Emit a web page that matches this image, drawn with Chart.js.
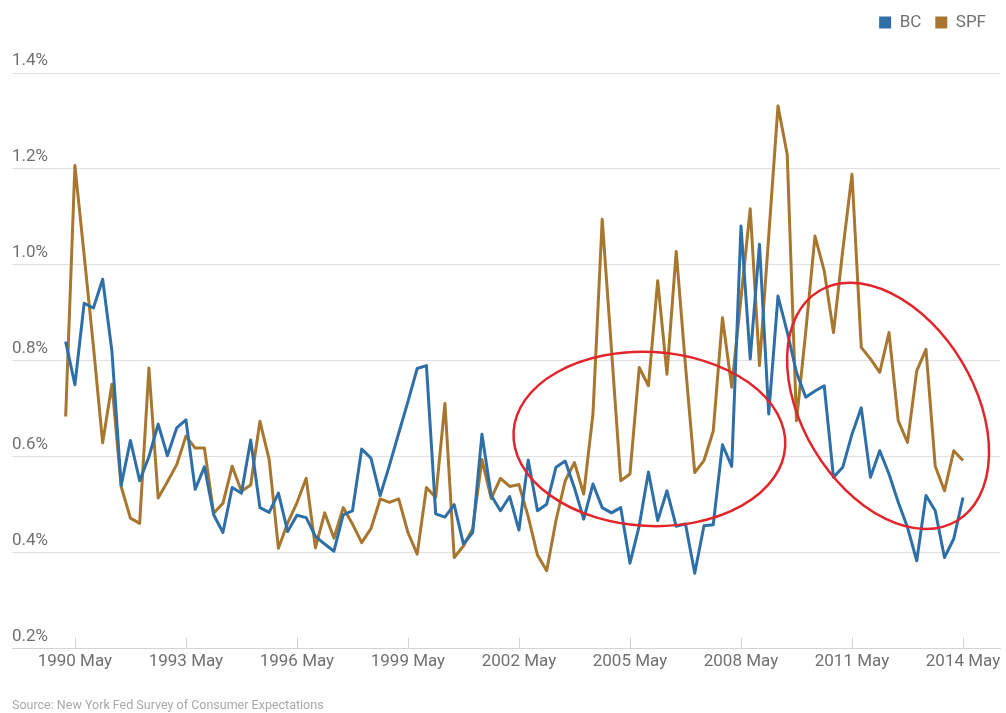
<!DOCTYPE html>
<html>
<head>
<meta charset="utf-8">
<script src="https://cdn.jsdelivr.net/npm/chart.js@4.4.1/dist/chart.umd.min.js"></script>
<style>
    html, body { margin: 0; padding: 0; background: #fff; }
</style>
</head>
<body>
<canvas id="lineChart" width="1006" height="713"></canvas>
<script>
/* BC vs SPF - quarterly, 1990 Feb ~ 2014 May */

// --- data ---
const bcValues = [
    0.84, 0.75, 0.92, 0.91, 0.97, 0.82, 0.54, 0.634, 0.55, 0.60,
    0.668, 0.602, 0.66, 0.677, 0.532, 0.579, 0.479, 0.442, 0.536, 0.524,
    0.635, 0.494, 0.484, 0.524, 0.444, 0.478, 0.473, 0.434, 0.418, 0.403,
    0.479, 0.487, 0.616, 0.597, 0.519, 0.582, 0.649, 0.715, 0.784, 0.79,
    0.481, 0.474, 0.50, 0.418, 0.442, 0.647, 0.519, 0.4875, 0.517, 0.447,
    0.593, 0.4875, 0.501, 0.578, 0.591, 0.535, 0.47, 0.543, 0.494, 0.483,
    0.494, 0.378, 0.456, 0.568, 0.467, 0.529, 0.455, 0.46, 0.357, 0.456,
    0.458, 0.625, 0.58, 1.081, 0.804, 1.043, 0.689, 0.935, 0.86, 0.776,
    0.724, 0.737, 0.748, 0.557, 0.578, 0.647, 0.702, 0.557, 0.6125, 0.564,
    0.505, 0.453, 0.383, 0.519, 0.4875, 0.39, 0.429, 0.515
];

const spfValues = [
    0.684, 1.207, 1.02, 0.83, 0.629, 0.751, 0.538, 0.472, 0.461, 0.785,
    0.514, 0.548, 0.583, 0.643, 0.618, 0.618, 0.482, 0.503, 0.58, 0.528,
    0.541, 0.674, 0.594, 0.409, 0.462, 0.504, 0.555, 0.41, 0.483, 0.43,
    0.494, 0.46, 0.421, 0.45, 0.512, 0.505, 0.512, 0.442, 0.397, 0.536,
    0.515, 0.711, 0.39, 0.414, 0.45, 0.594, 0.513, 0.555, 0.538, 0.542,
    0.475, 0.395, 0.3625, 0.467, 0.55, 0.588, 0.522, 0.689, 1.095, 0.824,
    0.55, 0.564, 0.786, 0.748, 0.967, 0.772, 1.028, 0.79, 0.567, 0.592,
    0.653, 0.89, 0.745, 0.93, 1.117, 0.79, 1.06, 1.331, 1.23, 0.675,
    0.86, 1.06, 0.9875, 0.859, 1.03, 1.189, 0.828, 0.804, 0.776, 0.859,
    0.675, 0.63, 0.779, 0.824, 0.58, 0.529, 0.6125, 0.592
];

const quarterMonths = ['Feb', 'May', 'Aug', 'Nov'];
const tickIndex = [1, 13, 25, 37, 49, 61, 73, 85, 97];
const tickLabels = ['1990 May', '1993 May', '1996 May', '1999 May', '2002 May',
                    '2005 May', '2008 May', '2011 May', '2014 May'];
const yTicks = [0.2, 0.4, 0.6, 0.8, 1.0, 1.2, 1.4];

// 빨간 타원 (x: 분기 index, y: %)
const highlightRings = [
    { x: 63.1, y: 0.637, rx: 136, ry: 87, angle: 3 },
    { x: 88.9, y: 0.706, rx: 134, ry: 86, angle: 59 }
];

const periods = bcValues.map((v, i) => (1990 + Math.floor(i / 4)) + ' ' + quarterMonths[i % 4]);
const toPoints = arr => arr.map((y, i) => ({ x: i, y: y }));

const FONT = "Roboto, 'Liberation Sans', sans-serif";

// --- plugins ---
const legendSpacer = {
    id: 'legendSpacer',
    beforeInit(chart) {
        const fitLegend = chart.legend.fit;
        chart.legend.fit = function () {
            fitLegend.call(this);
            this.height += 32;
        };
    }
};

const innerTicks = {
    id: 'innerTicks',
    afterDraw(chart) {
        const { ctx, chartArea, scales: { x } } = chart;
        ctx.save();
        ctx.strokeStyle = '#d4d4d4';
        ctx.lineWidth = 1;
        x.ticks.forEach(t => {
            const px = Math.round(x.getPixelForValue(t.value)) + 0.5;
            ctx.beginPath();
            ctx.moveTo(px, chartArea.bottom - 11);
            ctx.lineTo(px, chartArea.bottom);
            ctx.stroke();
        });
        ctx.restore();
    }
};

const rings = {
    id: 'rings',
    afterDatasetsDraw(chart) {
        const { ctx, scales: { x, y } } = chart;
        ctx.save();
        ctx.strokeStyle = '#e2252b';
        ctx.lineWidth = 2.5;
        highlightRings.forEach(r => {
            ctx.beginPath();
            ctx.ellipse(x.getPixelForValue(r.x), y.getPixelForValue(r.y),
                        r.rx, r.ry, r.angle * Math.PI / 180, 0, Math.PI * 2);
            ctx.stroke();
        });
        ctx.restore();
    }
};

// --- chart ---
const ctx = document.getElementById('lineChart').getContext('2d');

new Chart(ctx, {
    type: 'line',
    data: {
        datasets: [
            {
                label: 'BC',
                data: toPoints(bcValues),
                borderColor: '#2e6fa8',
                backgroundColor: '#2e6fa8',
                borderWidth: 3
            },
            {
                label: 'SPF',
                data: toPoints(spfValues),
                borderColor: '#a8772f',
                backgroundColor: '#a8772f',
                borderWidth: 3
            }
        ]
    },
    options: {
        responsive: false,
        animation: false,
        layout: { padding: { top: 0, left: 12, right: 6, bottom: 0 } },
        elements: {
            point: { radius: 0, hoverRadius: 0 },
            line: { tension: 0, borderJoinStyle: 'round' }
        },
        scales: {
            x: {
                type: 'linear',
                min: -5.8,
                max: 101,
                afterBuildTicks: axis => {
                    axis.ticks = tickIndex.map(v => ({ value: v }));
                },
                grid: { display: false, drawTicks: false },
                border: { display: true, color: '#d4d4d4' },
                ticks: {
                    padding: 3,
                    autoSkip: false,
                    maxRotation: 0,
                    color: '#707070',
                    font: { family: FONT, size: 17 },
                    callback: (value, index) => tickLabels[index]
                }
            },
            y: {
                min: 0.2,
                max: 1.4,
                afterBuildTicks: axis => {
                    axis.ticks = yTicks.map(v => ({ value: v }));
                },
                grid: { color: '#e0e0e0', drawTicks: false },
                border: { display: false },
                ticks: {
                    mirror: true,
                    padding: 0,
                    labelOffset: -12,
                    color: '#707070',
                    font: { family: FONT, size: 17 },
                    callback: value => value.toFixed(1) + '%'
                }
            }
        },
        plugins: {
            legend: {
                position: 'top',
                align: 'end',
                labels: {
                    boxWidth: 12,
                    boxHeight: 12,
                    padding: 14,
                    color: '#707070',
                    font: { family: FONT, size: 17 },
                    generateLabels: chart =>
                        Chart.defaults.plugins.legend.labels.generateLabels(chart)
                            .map(item => ({ ...item, lineWidth: 0 }))
                }
            },
            subtitle: {
                display: true,
                text: 'Source: New York Fed Survey of Consumer Expectations',
                position: 'bottom',
                align: 'start',
                color: '#a8a8a8',
                font: { family: FONT, size: 12.5 },
                padding: { top: 23, bottom: 0 }
            },
            tooltip: {
                callbacks: {
                    title: items => periods[items[0].parsed.x],
                    label: c => c.dataset.label + ': ' + c.parsed.y.toFixed(2) + '%'
                }
            }
        }
    },
    plugins: [legendSpacer, innerTicks, rings]
});
</script>
</body>
</html>
